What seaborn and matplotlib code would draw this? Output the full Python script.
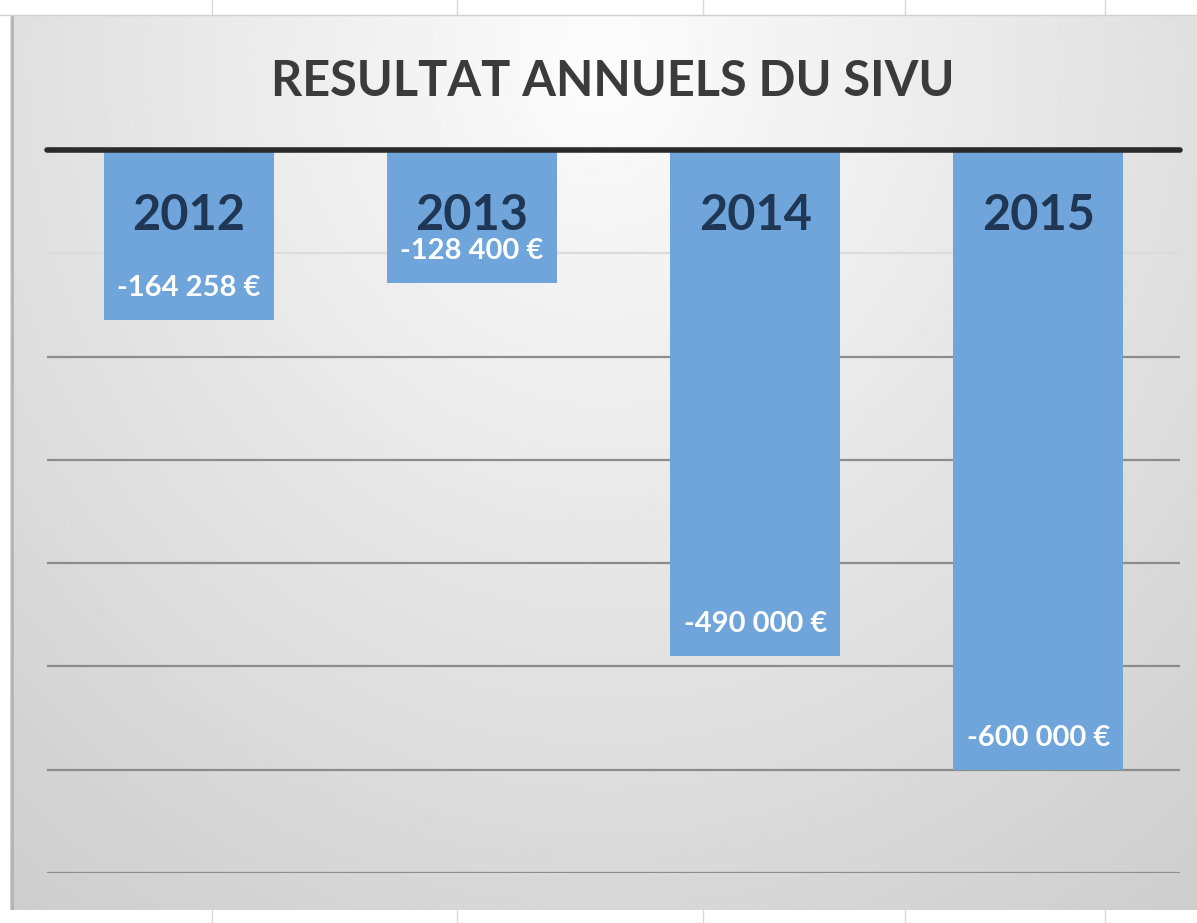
import numpy as np
import matplotlib
matplotlib.use("Agg")
import matplotlib.pyplot as plt
import seaborn as sns

# Données
annees = ['2012', '2013', '2014', '2015']
resultats = [-164258, -128400, -490000, -600000]
graduations = [-100000, -200000, -300000, -400000, -500000, -600000, -700000]
titre = 'RESULTAT ANNUELS DU SIVU'

sns.set_style('white')
plt.rcParams['font.family'] = ['Lato', 'DejaVu Sans']

fig = plt.figure(figsize=(11.97, 9.23), dpi=100)
fig.patch.set_facecolor('white')

# fond dégradé façon Excel
bg = fig.add_axes([10/1197, 1 - 910/923, 1187/1197, 895/923])
xx, yy = np.meshgrid(np.linspace(0, 1, 300), np.linspace(0, 1, 300))
r = np.sqrt(((xx - 0.5) / 0.75) ** 2 + ((yy - 0.05) / 1.1) ** 2)
grad = np.clip(0.99 - 0.17 * r, 0.78, 1.0)
bg.imshow(grad, cmap='gray', vmin=0, vmax=1, aspect='auto', extent=[0, 1, 1, 0])
bg.plot([0.002, 0.002], [0, 1], color='#b4b4b4', lw=2)
bg.set_axis_off()

# petits traits des cellules en haut et en bas
for px in [212, 457, 703, 905, 1105]:
    fig.add_artist(plt.Line2D([px/1197, px/1197], [1 - 15/923, 1.0], color='#d8d8d8', lw=1))
    fig.add_artist(plt.Line2D([px/1197, px/1197], [0, 1 - 910/923], color='#d8d8d8', lw=1))
fig.add_artist(plt.Line2D([0, 1], [1 - 15/923, 1 - 15/923], color='#d0d0d0', lw=1))

ax = fig.add_axes([47/1197, 1 - 873/923, 1133/1197, 723/923])
ax.patch.set_alpha(0)

sns.barplot(x=annees, y=resultats, color='#6fa5da', saturation=1, width=0.6,
            linewidth=0, ax=ax, zorder=3)

ax.set_xlim(-0.5, 3.5)
ax.set_ylim(-700000, 0)
ax.set_yticks(graduations)
ax.grid(axis='y', color='#8c8c8c', lw=1.6, zorder=1)
for ligne, val in zip(ax.get_ygridlines(), graduations):
    if val == -100000:
        ligne.set_color('#dcdcdc')
ax.axhline(0, color='#2a2a2a', lw=4, zorder=5, clip_on=False)
for s in ax.spines.values():
    s.set_visible(False)
ax.set_xticklabels([])
ax.set_yticklabels([])
ax.tick_params(length=0)
ax.set_xlabel('')
ax.set_ylabel('')

for i, (an, v) in enumerate(zip(annees, resultats)):
    ax.annotate(an, (i, 0), xytext=(0, -47), textcoords='offset points',
                ha='center', va='center', fontsize=35, fontweight='bold',
                color='#1f3654', zorder=6)
    txt = f"{v:,}".replace(',', ' ') + ' €'
    ax.annotate(txt, (i, v), xytext=(0, 23), textcoords='offset points',
                ha='center', va='center', fontsize=21, fontweight='bold',
                color='white', zorder=6)

fig.text(613/1197, 1 - 82/923, titre, ha='center', va='center',
         fontsize=35, fontweight='bold', color='#3b3b3b')

fig.savefig('out.png', dpi=100)
